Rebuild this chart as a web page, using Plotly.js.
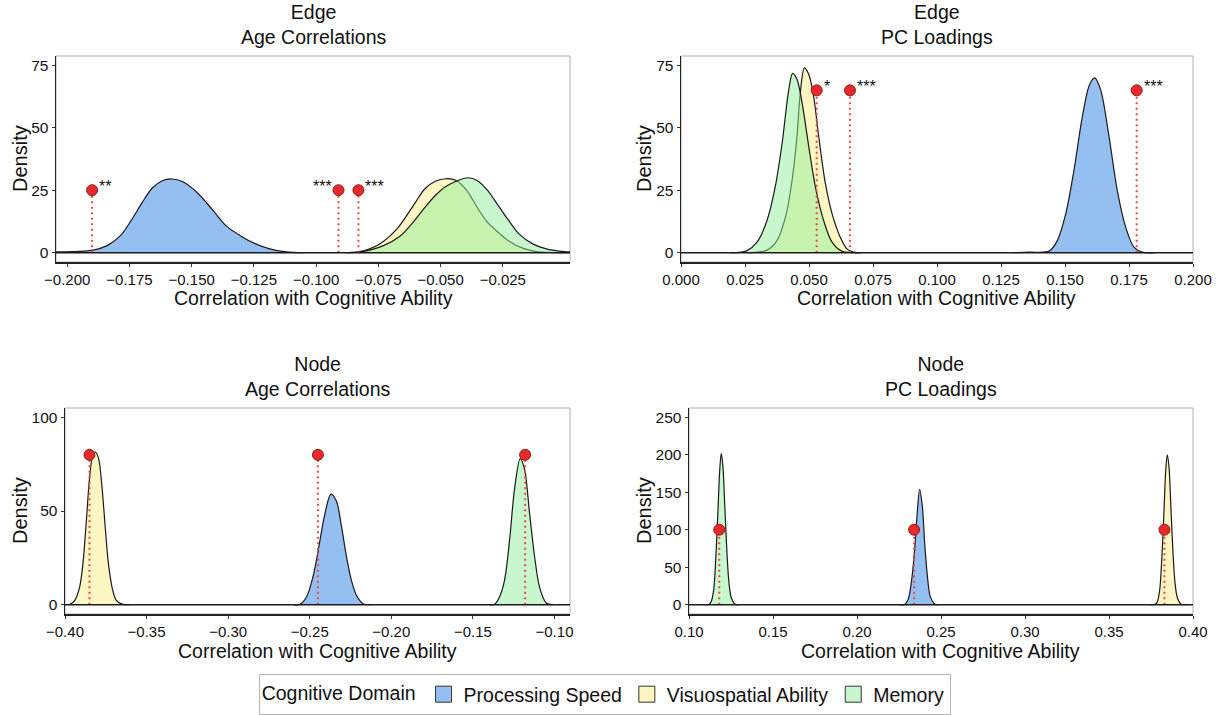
<!DOCTYPE html>
<html>
<head>
<meta charset="utf-8">
<script src="https://cdn.plot.ly/plotly-3.0.1.min.js"></script>
<style>
html,body{margin:0;padding:0;background:#fff;}
#chart{width:1224px;height:715px;}
</style>
</head>
<body>
<div id="chart"></div>
<script>
// ================= DATA =================
const domainNames = ['Processing Speed', 'Visuospatial Ability', 'Memory'];

// ---- Edge / Age Correlations ----
const edgeAgeSpeedX = [-0.2045, -0.1896, -0.1840, -0.1785, -0.1743, -0.1701, -0.1660, -0.1618, -0.1580, -0.1535, -0.1475, -0.1415, -0.1360, -0.1305, -0.1245, -0.1190, -0.1120, -0.1050];
const edgeAgeSpeedY = [0.3, 1.0, 2.8, 6.9, 12.9, 19.7, 25.7, 28.8, 29.5, 28.4, 23.8, 17.0, 10.6, 6.8, 3.6, 1.6, 0.3, 0.0];
const edgeAgeVisX = [-0.0880, -0.0830, -0.0746, -0.0676, -0.0605, -0.0563, -0.0521, -0.0479, -0.0437, -0.0395, -0.0353, -0.0311, -0.0268, -0.0226, -0.0170, -0.0114, -0.0058, 0.0020];
const edgeAgeVisY = [0.0, 0.3, 3.4, 9.4, 19.5, 25.6, 28.6, 29.6, 28.9, 24.9, 18.1, 12.1, 8.1, 4.7, 1.8, 0.4, 0.05, 0.0];
const edgeAgeMemX = [-0.0870, -0.0816, -0.0732, -0.0662, -0.0605, -0.0563, -0.0521, -0.0479, -0.0437, -0.0388, -0.0353, -0.0311, -0.0268, -0.0226, -0.0184, -0.0128, -0.0072, -0.0002, 0.0020];
const edgeAgeMemY = [0.0, 0.4, 2.7, 6.7, 12.8, 18.1, 22.9, 26.5, 28.6, 30.0, 28.9, 24.9, 18.8, 12.8, 7.4, 3.4, 1.4, 0.4, 0.3];
const edgeAgePointX = [-0.190, -0.091, -0.083];
const edgeAgePointY = [25, 25, 25];
const edgeAgeStars = ['**', '***', '***'];
const edgeAgeTicks = [-0.200, -0.175, -0.150, -0.125, -0.100, -0.075, -0.050, -0.025];

// ---- Edge / PC Loadings ----
const edgePCSpeedX = [0.1300, 0.1359, 0.1438, 0.1470, 0.1503, 0.1535, 0.1568, 0.1596, 0.1616, 0.1639, 0.1672, 0.1704, 0.1737, 0.1770, 0.1802, 0.1850];
const edgePCSpeedY = [0.0, 0.2, 0.6, 4.8, 15.6, 33.0, 54.6, 67.3, 70.0, 65.3, 46.5, 25.0, 10.2, 2.1, 0.2, 0.0];
const edgePCVisX = [0.0260, 0.0297, 0.0336, 0.0375, 0.0408, 0.0434, 0.0453, 0.0466, 0.0482, 0.0499, 0.0518, 0.0538, 0.0564, 0.0590, 0.0622, 0.0648, 0.0674, 0.0710];
const edgePCVisY = [0.0, 0.2, 1.0, 4.8, 14.2, 29.0, 46.5, 64.0, 74.0, 71.4, 62.6, 46.5, 27.7, 15.6, 6.2, 1.5, 0.2, 0.0];
const edgePCMemX = [0.0190, 0.0225, 0.0258, 0.0297, 0.0336, 0.0368, 0.0395, 0.0421, 0.0436, 0.0453, 0.0473, 0.0499, 0.0525, 0.0557, 0.0590, 0.0629, 0.0661, 0.0700];
const edgePCMemY = [0.0, 0.1, 0.8, 4.2, 12.9, 26.3, 43.8, 65.3, 71.8, 69.4, 60.0, 42.5, 26.3, 12.9, 4.2, 0.5, 0.05, 0.0];
const edgePCPointX = [0.053, 0.066, 0.178];
const edgePCPointY = [65, 65, 65];
const edgePCStars = ['*', '***', '***'];
const edgePCTicks = [0.000, 0.025, 0.050, 0.075, 0.100, 0.125, 0.150, 0.175, 0.200];

// ---- Node / Age Correlations ----
const nodeAgeSpeedX = [-0.2600, -0.2560, -0.2520, -0.2480, -0.2440, -0.2410, -0.2370, -0.2337, -0.2306, -0.2275, -0.2245, -0.2214, -0.2173, -0.2120];
const nodeAgeSpeedY = [0.0, 0.2, 4.1, 14.9, 33.0, 47.3, 59.0, 55.4, 42.0, 25.7, 13.1, 5.0, 0.5, 0.0];
const nodeAgeVisX = [-0.3990, -0.3970, -0.3940, -0.3910, -0.3890, -0.3870, -0.3850, -0.3830, -0.3814, -0.3794, -0.3774, -0.3754, -0.3734, -0.3710, -0.3686, -0.3650, -0.3600];
const nodeAgeVisY = [0.1, 0.2, 2.3, 9.5, 22.0, 43.7, 67.0, 79.7, 81.5, 78.0, 63.5, 42.0, 22.0, 8.6, 2.3, 0.3, 0.0];
const nodeAgeMemX = [-0.1400, -0.1367, -0.1337, -0.1306, -0.1275, -0.1245, -0.1210, -0.1184, -0.1153, -0.1122, -0.1092, -0.1051, -0.1010];
const nodeAgeMemY = [0.0, 0.2, 4.1, 13.1, 34.7, 61.7, 78.0, 72.5, 49.0, 25.7, 9.5, 0.9, 0.0];
const nodeAgePointX = [-0.385, -0.245, -0.118];
const nodeAgePointY = [80, 80, 80];
const nodeAgeStars = ['', '', ''];
const nodeAgeTicks = [-0.40, -0.35, -0.30, -0.25, -0.20, -0.15, -0.10];

// ---- Node / PC Loadings ----
const nodePCSpeedX = [0.2250, 0.2284, 0.2304, 0.2323, 0.2343, 0.2357, 0.2373, 0.2389, 0.2403, 0.2419, 0.2436, 0.2462, 0.2490];
const nodePCSpeedY = [0.0, 0.3, 6.7, 29.0, 73.0, 118.0, 154.0, 131.0, 82.0, 38.0, 11.0, 1.0, 0.0];
const nodePCVisX = [0.3745, 0.3774, 0.3788, 0.3802, 0.3814, 0.3826, 0.3838, 0.3847, 0.3857, 0.3869, 0.3881, 0.3893, 0.3907, 0.3927, 0.3955];
const nodePCVisY = [0.0, 0.3, 4.0, 20.0, 60.0, 118.0, 180.0, 200.0, 184.0, 127.0, 69.0, 29.0, 9.0, 1.0, 0.0];
const nodePCMemX = [0.1090, 0.1119, 0.1133, 0.1147, 0.1159, 0.1171, 0.1183, 0.1192, 0.1202, 0.1214, 0.1226, 0.1238, 0.1252, 0.1272, 0.1300];
const nodePCMemY = [0.0, 0.3, 4.4, 20.0, 60.0, 117.8, 180.0, 202.0, 184.0, 126.7, 69.0, 29.0, 8.9, 1.0, 0.0];
const nodePCPointX = [0.118, 0.234, 0.383];
const nodePCPointY = [100, 100, 100];
const nodePCStars = ['', '', ''];
const nodePCTicks = [0.10, 0.15, 0.20, 0.25, 0.30, 0.35, 0.40];

const densityTicksEdge = [0, 25, 50, 75];
const densityTicksNodeAge = [0, 50, 100];
const densityTicksNodePC = [0, 50, 100, 150, 200, 250];

const xTitleText = 'Correlation with Cognitive Ability';
const yTitleText = 'Density';
const legendTitleText = 'Cognitive Domain';

// ================= STYLE / LAYOUT =================
const FONT = 'Liberation Sans, Arial, Helvetica, sans-serif';
const fillColors = ['rgba(43,127,227,0.5)', 'rgba(250,238,135,0.5)', 'rgba(145,239,155,0.5)'];
const legendColors = ['#95bff1', '#fcf6c3', '#c8f7cd'];

const panels = [
  { ax: '', title: 'Edge<br>Age Correlations',
    series: [[edgeAgeSpeedX, edgeAgeSpeedY], [edgeAgeVisX, edgeAgeVisY], [edgeAgeMemX, edgeAgeMemY]],
    px: edgeAgePointX, py: edgeAgePointY, stars: edgeAgeStars, starSide: ['right', 'left', 'right'],
    xt: edgeAgeTicks, xfmt: '.3f', yt: densityTicksEdge,
    xr: [-0.2045, 0.002], yr: [-3.75, 78.75], xd: [56, 570], yd: [56, 262], ytx: 20, xty: 298 },
  { ax: '2', title: 'Edge<br>PC Loadings',
    series: [[edgePCSpeedX, edgePCSpeedY], [edgePCVisX, edgePCVisY], [edgePCMemX, edgePCMemY]],
    px: edgePCPointX, py: edgePCPointY, stars: edgePCStars, starSide: ['right', 'right', 'right'],
    xt: edgePCTicks, xfmt: '.3f', yt: densityTicksEdge,
    xr: [0, 0.2], yr: [-3.75, 78.75], xd: [681, 1193], yd: [56, 262], ytx: 644, xty: 298 },
  { ax: '3', title: 'Node<br>Age Correlations',
    series: [[nodeAgeSpeedX, nodeAgeSpeedY], [nodeAgeVisX, nodeAgeVisY], [nodeAgeMemX, nodeAgeMemY]],
    px: nodeAgePointX, py: nodeAgePointY, stars: nodeAgeStars, starSide: ['right', 'right', 'right'],
    xt: nodeAgeTicks, xfmt: '.2f', yt: densityTicksNodeAge,
    xr: [-0.4, -0.0905], yr: [-5, 105], xd: [65, 570], yd: [408, 614], ytx: 20, xty: 651 },
  { ax: '4', title: 'Node<br>PC Loadings',
    series: [[nodePCSpeedX, nodePCSpeedY], [nodePCVisX, nodePCVisY], [nodePCMemX, nodePCMemY]],
    px: nodePCPointX, py: nodePCPointY, stars: nodePCStars, starSide: ['right', 'right', 'right'],
    xt: nodePCTicks, xfmt: '.2f', yt: densityTicksNodePC,
    xr: [0.1, 0.4], yr: [-12.5, 262.5], xd: [689, 1193], yd: [408, 614], ytx: 644, xty: 651 }
];

const W = 1224, H = 715;
const traces = [];
const shapes = [];
const annotations = [];
const layout = {
  width: W, height: H,
  margin: { l: 0, r: 0, t: 0, b: 0 },
  paper_bgcolor: '#fff', plot_bgcolor: '#fff',
  font: { family: FONT, color: '#111' },
  showlegend: true,
  legend: {
    orientation: 'h', x: 0.494, xanchor: 'center', y: 0, yanchor: 'bottom',
    bordercolor: '#b5b5b5', borderwidth: 1, bgcolor: '#fff',
    font: { family: FONT, size: 19.5, color: '#111' },
    title: { text: legendTitleText, side: 'left', font: { family: FONT, size: 19.5, color: '#111' } },
    itemclick: false, itemdoubleclick: false, tracegroupgap: 0
  },
  hovermode: false
};

panels.forEach((p) => {
  const xa = 'x' + p.ax, ya = 'y' + p.ax;
  p.series.forEach((s, i) => {
    traces.push({
      type: 'scatter', mode: 'lines', x: s[0], y: s[1], xaxis: xa, yaxis: ya,
      fill: 'tozeroy', fillcolor: fillColors[i],
      line: { color: '#1a1a1a', width: 1.2, shape: 'spline', smoothing: 0.9 },
      showlegend: false, hoverinfo: 'skip'
    });
  });
  const lx = [], ly = [];
  p.px.forEach((v, k) => { lx.push(v, v, null); ly.push(0, p.py[k], null); });
  traces.push({
    type: 'scatter', mode: 'lines', x: lx, y: ly, xaxis: xa, yaxis: ya,
    line: { color: '#f04646', width: 2, dash: '2px,3.5px' }, showlegend: false, hoverinfo: 'skip'
  });
  traces.push({
    type: 'scatter', mode: 'markers', x: p.px, y: p.py, xaxis: xa, yaxis: ya,
    marker: { size: 11, color: '#e8292b', line: { color: '#8e1d1d', width: 1 } },
    showlegend: false, hoverinfo: 'skip'
  });
  p.stars.forEach((t, k) => {
    if (!t) return;
    const right = p.starSide[k] === 'right';
    annotations.push({
      xref: xa, yref: ya, x: p.px[k], y: p.py[k], text: t, showarrow: false,
      xanchor: right ? 'left' : 'right', yanchor: 'middle',
      xshift: right ? 5 : -5, yshift: 4,
      font: { family: FONT, size: 16, color: '#111' }
    });
  });
  const xdom = [p.xd[0] / W, p.xd[1] / W];
  const ydom = [(H - p.yd[1]) / H, (H - p.yd[0]) / H];
  layout['xaxis' + p.ax] = {
    domain: xdom, range: p.xr, anchor: ya, fixedrange: true,
    tickmode: 'array', tickvals: p.xt, tickformat: p.xfmt,
    showgrid: false, zeroline: false, showline: true, linecolor: '#222', linewidth: 1.5,
    ticks: 'outside', ticklen: 3, tickwidth: 1, tickcolor: '#333',
    tickfont: { family: FONT, size: 15, color: '#111' },
    automargin: false
  };
  layout['yaxis' + p.ax] = {
    domain: ydom, range: p.yr, anchor: xa, fixedrange: true,
    tickmode: 'array', tickvals: p.yt,
    showgrid: false, zeroline: false, showline: true, linecolor: '#222', linewidth: 1.5,
    ticks: 'outside', ticklen: 3, tickwidth: 1, tickcolor: '#333',
    tickfont: { family: FONT, size: 15.5, color: '#111' },
    automargin: false
  };
  shapes.push({
    type: 'rect', xref: xa + ' domain', yref: ya + ' domain', x0: 0, x1: 1, y0: 0, y1: 1,
    line: { color: '#b0b0b0', width: 1 }, layer: 'below'
  });
  shapes.push({
    type: 'line', xref: xa + ' domain', yref: ya, x0: 0, x1: 1, y0: 0, y1: 0,
    line: { color: '#1a1a1a', width: 1.5 }, layer: 'above'
  });
  annotations.push({
    xref: 'paper', yref: 'paper', x: (xdom[0] + xdom[1]) / 2, y: (H - (p.yd[0] - 6)) / H,
    xanchor: 'center', yanchor: 'bottom', text: p.title, showarrow: false,
    font: { family: FONT, size: 19.5, color: '#111' }
  });
  annotations.push({
    xref: 'paper', yref: 'paper', x: (xdom[0] + xdom[1]) / 2, y: (H - p.xty) / H,
    xanchor: 'center', yanchor: 'middle', text: xTitleText, showarrow: false,
    font: { family: FONT, size: 19.5, color: '#111' }
  });
  annotations.push({
    xref: 'paper', yref: 'paper', x: p.ytx / W, y: (ydom[0] + ydom[1]) / 2,
    xanchor: 'center', yanchor: 'middle', text: yTitleText, textangle: -90, showarrow: false,
    font: { family: FONT, size: 20, color: '#111' }
  });
});

domainNames.forEach((name, i) => {
  traces.push({
    type: 'scatter', mode: 'markers', x: [null], y: [null], name: name,
    marker: { symbol: 'square', size: 16, color: legendColors[i], line: { color: '#333', width: 1 } },
    showlegend: true, hoverinfo: 'skip'
  });
});

layout.shapes = shapes;
layout.annotations = annotations;

Plotly.newPlot('chart', traces, layout, { displayModeBar: false, staticPlot: true });
</script>
</body>
</html>
